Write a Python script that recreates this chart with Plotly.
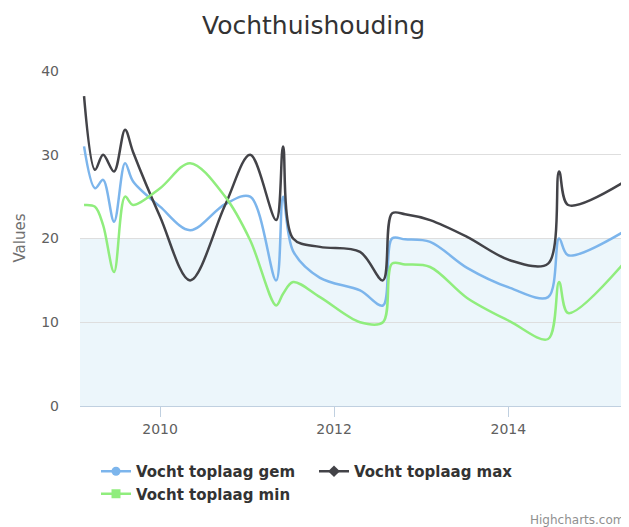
import plotly.graph_objects as go

# ---- data ----
dates = [
    "2009-02-16", "2009-04-03", "2009-05-07", "2009-06-22", "2009-08-07",
    "2009-09-10", "2010-01-01", "2010-05-07", "2010-10-01", "2011-01-14",
    "2011-05-03", "2011-06-01", "2011-07-13", "2011-11-03", "2012-04-19",
    "2012-07-24", "2012-08-31", "2012-10-25", "2013-02-07", "2013-07-12",
    "2014-01-08", "2014-06-17", "2014-08-02", "2014-09-09", "2015-04-23",
]
vocht_gem = [31, 26, 27, 22, 29, 26.8, 23.8, 21, 24.1, 25,
             15, 25, 18.5, 15.3, 13.8, 12, 20, 19.9, 19.6, 16.5,
             14.1, 13, 20, 18, 20.7]
vocht_max = [37, 28.2, 30, 28, 33, 30.3, 22.6, 15, 24, 30,
             22.2, 31, 20, 19, 18.4, 15, 23, 22.9, 22.2, 20.2,
             17.4, 17, 28, 24, 26.6]
vocht_min = [24, 23.8, 21.6, 16, 25, 24, 26, 29, 25, 19.8,
             12, 13.4, 14.8, 13, 10, 10, 17, 16.9, 16.6, 12.9,
             10.1, 8, 14.8, 11.1, 16.8]

series_names = ["Vocht toplaag gem", "Vocht toplaag max", "Vocht toplaag min"]
series_values = [vocht_gem, vocht_max, vocht_min]
series_colors = ["#7cb5ec", "#434348", "#90ed7d"]
series_symbols = ["circle", "diamond", "square"]

x_range = ["2009-01-30", "2015-04-23"]
y_ticks = [0, 10, 20, 30, 40]
x_ticks = ["2010-01-01", "2012-01-01", "2014-01-01"]
x_tick_labels = ["2010", "2012", "2014"]
band_range = [0, 20]

FONT = "DejaVu Sans"

# the page body has an 8px default margin: figure is shifted by 8px
OFF = 8
W, H = 629 - OFF, 527 - OFF
L, T, R, B = 80 - OFF, 71 - OFF, 7, 121
PW = W - L - R
PH = H - T - B


def px_x(page_x):
    return (page_x - OFF - L) / PW


def px_y(page_y):
    return (H - B - (page_y - OFF)) / PH


fig = go.Figure()

for name, vals, col in zip(series_names, series_values, series_colors):
    fig.add_trace(go.Scatter(
        x=dates, y=vals, name=name, mode="lines",
        line=dict(color=col, width=2.5, shape="spline", smoothing=0.95),
        showlegend=False, hoverinfo="x+y+name",
    ))

# legend entries (line + marker symbol like Highcharts)
for name, col, sym in zip(series_names, series_colors, series_symbols):
    fig.add_trace(go.Scatter(
        x=[None], y=[None], name=name, mode="lines+markers",
        line=dict(color=col, width=2.5),
        marker=dict(color=col, size=9, symbol=sym),
        showlegend=True,
    ))

fig.add_shape(type="rect", xref="paper", yref="y", x0=0, x1=1,
              y0=band_range[0], y1=band_range[1],
              fillcolor="rgba(68,170,213,0.1)", line=dict(width=0),
              layer="below")

fig.update_layout(
    width=W, height=H,
    margin=dict(l=L, r=R, t=T, b=B, autoexpand=False),
    paper_bgcolor="white", plot_bgcolor="white",
    font=dict(family=FONT, color="#606060"),
    title=dict(text="Vochthuishouding", x=(313.5 - OFF) / W, xanchor="center",
               xref="container", y=1 - (25 - OFF) / H, yref="container", yanchor="middle",
               font=dict(family=FONT, size=25, color="#333333")),
    xaxis=dict(
        type="date", range=x_range,
        tickvals=x_ticks, ticktext=x_tick_labels,
        showgrid=False, zeroline=False,
        showline=True, linecolor="#C0D0E0", linewidth=1,
        ticks="outside", ticklen=10, tickcolor="#C0D0E0", tickwidth=1,
        tickfont=dict(family=FONT, size=14, color="#606060"),
    ),
    yaxis=dict(
        range=[0, 40], tickvals=y_ticks,
        showgrid=True, gridcolor="#DEDEDE", gridwidth=1,
        zeroline=False, showline=False, ticks="",
        ticklabelstandoff=20,
        tickfont=dict(family=FONT, size=14, color="#606060"),
    ),
    legend=dict(
        orientation="h", x=px_x(96), xanchor="left",
        y=px_y(455), yanchor="top",
        entrywidth=173, entrywidthmode="pixels",
        font=dict(family=FONT, size=15, color="#333333", weight="bold"),
        bgcolor="rgba(0,0,0,0)",
    ),
    annotations=[
        dict(text="Values", xref="paper", yref="paper",
             x=px_x(19), y=0.5, textangle=-90, showarrow=False,
             font=dict(family=FONT, size=15, color="#707070"),
             xanchor="center", yanchor="middle"),
        dict(text="Highcharts.com", xref="paper", yref="paper",
             x=px_x(626), y=px_y(520), showarrow=False,
             font=dict(family=FONT, size=12, color="#909090"),
             xanchor="right", yanchor="middle"),
    ],
)

fig.write_html("out.html")
